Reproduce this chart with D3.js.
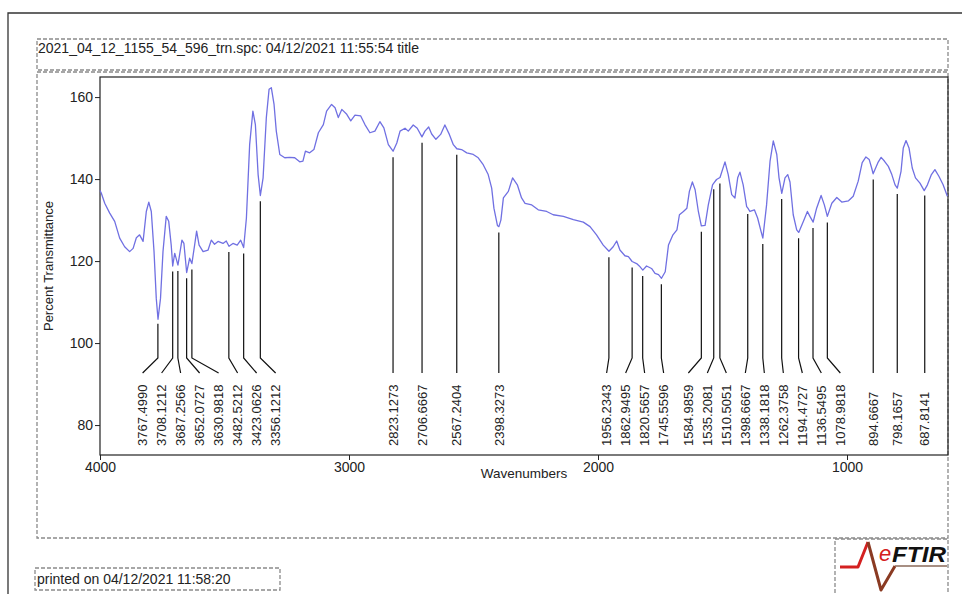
<!DOCTYPE html>
<html>
<head>
<meta charset="utf-8">
<script src="https://cdn.jsdelivr.net/npm/d3@7"></script>
<style>
  html, body { margin: 0; padding: 0; background: #fff; }
  svg { display: block; font-family: "Liberation Sans", Arial, sans-serif; }
</style>
</head>
<body>
<svg id="chart" width="962" height="594"></svg>
<script>
// ---------- DATA ----------
const titleText = "2021_04_12_1155_54_596_trn.spc: 04/12/2021 11:55:54 title";
const printedText = "printed on 04/12/2021 11:58:20";
const xAxisLabel = "Wavenumbers";
const yAxisLabel = "Percent Transmittance";
const xTicks = [4000, 3000, 2000, 1000];
const yTicks = [80, 100, 120, 140, 160];

const wavenumbers = [
  4000,3995,3981,3961,3941,3921,3901,3881,3867,3854,3841,3827,3814,3804,3794,3783,3774,3767,3757,3747,
  3734,3724,3714,3708,3700,3694,3687,3671,3663,3652,3640,3631,3620,3612,3602,3586,3566,3553,3540,3526,
  3506,3493,3482,3466,3449,3435,3423,3412,3399,3386,3376,3365,3356,3345,3332,3321,3312,3301,3292,3278,
  3258,3238,3218,3198,3185,3175,3158,3141,3123,3103,3090,3070,3056,3043,3029,3009,2993,2976,2953,2936,
  2916,2896,2876,2860,2842,2823,2808,2795,2775,2762,2742,2726,2707,2695,2680,2668,2651,2632,2615,2597,
  2581,2567,2548,2527,2501,2481,2461,2441,2427,2418,2404,2398,2390,2380,2360,2343,2324,2307,2293,2266,
  2240,2206,2180,2139,2099,2059,2032,2006,1979,1956,1939,1925,1912,1892,1878,1863,1845,1831,1820,1805,
  1785,1771,1757,1745,1730,1717,1699,1683,1673,1657,1643,1633,1621,1610,1597,1585,1570,1557,1540,1535,
  1524,1510,1490,1477,1463,1450,1439,1430,1417,1403,1398,1390,1372,1359,1345,1338,1323,1309,1296,1282,
  1273,1262,1249,1238,1229,1216,1202,1194,1175,1159,1149,1136,1122,1104,1091,1079,1061,1041,1021,994,
  975,955,939,924,911,901,895,876,863,850,834,820,807,798,783,774,763,751,738,725,
  707,690,677,661,647,631,614,597
];
const transmittance = [
  137.2,136.6,134.1,131.7,129.7,125.6,123.5,122.3,123.1,125.7,126.4,124.8,132.1,134.4,132.1,122.3,110.9,105.8,110.9,122.3,
  130.9,129.7,123.9,118.8,121.9,120.6,119.0,125.1,124.3,117.2,120.7,119.4,123.9,127.3,123.9,122.3,122.7,125.1,124.1,124.8,
  124.3,124.9,123.6,124.3,123.9,125.1,123.3,130.5,148.4,156.6,153.3,141.1,136.0,140.3,155.0,161.9,162.3,158.2,151.7,146.0,
  145.2,145.3,145.2,144.2,144.4,146.8,146.4,147.2,151.3,153.3,156.6,158.2,157.4,155.0,157.0,155.8,154.2,155.6,155.4,153.3,
  151.3,151.7,154.0,152.5,148.4,146.8,148.8,151.7,152.4,151.7,153.2,152.4,150.3,151.7,152.7,151.0,149.7,150.9,153.2,150.9,
  148.4,147.4,147.2,146.4,146.0,145.2,143.5,141.1,137.8,132.9,128.7,128.4,130.0,135.4,137.0,140.3,138.6,135.4,134.1,133.7,
  132.5,132.1,131.3,130.9,130.1,129.5,128.4,126.4,123.9,122.4,123.5,124.9,122.7,121.3,121.1,119.9,119.4,118.6,117.8,118.8,
  118.2,117.0,116.7,115.8,117.4,123.9,126.4,127.6,131.3,132.1,132.9,137.0,139.3,137.4,132.1,128.6,128.7,133.7,138.6,139.0,
  139.9,140.4,144.2,141.1,136.2,135.4,140.3,141.7,138.6,133.3,132.9,132.1,132.5,130.5,127.2,125.6,133.7,144.4,149.3,146.0,
  140.3,136.5,140.3,141.1,139.3,131.3,127.6,127.0,129.7,132.1,130.9,129.5,132.9,136.0,133.7,130.9,134.1,135.5,134.4,134.7,
  135.8,139.5,144.0,145.4,144.8,142.7,141.3,144.0,145.3,144.4,143.1,141.1,138.6,137.8,141.9,147.6,149.4,147.6,142.7,140.3,
  139.0,137.2,138.6,141.1,142.3,140.7,138.6,135.8
];
const peakLabels = [
  "3767.4990","3708.1212","3687.2566","3652.0727","3630.9818","3482.5212","3423.0626","3356.1212",
  "2823.1273","2706.6667","2567.2404","2398.3273",
  "1956.2343","1862.9495","1820.5657","1745.5596",
  "1584.9859","1535.2081","1510.5051","1398.6667","1338.1818","1262.3758","1194.4727","1136.5495","1078.9818",
  "894.6667","798.1657","687.8141"
];

// ---------- LAYOUT ----------
const svg = d3.select("#chart");
const plot = { left: 100, right: 948, top: 77, bottom: 455 };
const x = d3.scaleLinear().domain([4000, 594.4]).range([plot.left, plot.right]);
const y = d3.scaleLinear().domain([72.7, 164.9]).range([plot.bottom, plot.top]);

const dashGray = "#8a8a8a";

// outer frame
svg.append("path").attr("d", "M8,600 L8,13 L970,13")
  .attr("fill", "none").attr("stroke", "#333").attr("stroke-width", 1.3);

// dashed boxes
function dashedBox(x0, y0, x1, y1) {
  svg.append("rect").attr("x", x0).attr("y", y0).attr("width", x1 - x0).attr("height", y1 - y0)
    .attr("fill", "none").attr("stroke", dashGray).attr("stroke-width", 1.3)
    .attr("stroke-dasharray", "4,2");
}
dashedBox(37, 39, 948, 70);
dashedBox(37, 72, 948, 538);
dashedBox(35, 568, 280, 590);
dashedBox(835, 539, 948, 600);

svg.append("text").attr("x", 38).attr("y", 53).attr("font-size", 14).attr("fill", "#222").text(titleText);
svg.append("text").attr("x", 37).attr("y", 584).attr("font-size", 14).attr("fill", "#222").text(printedText);

// plot frame
svg.append("rect").attr("x", plot.left).attr("y", plot.top)
  .attr("width", plot.right - plot.left).attr("height", plot.bottom - plot.top)
  .attr("fill", "none").attr("stroke", "#222").attr("stroke-width", 1.2);

// axes
const xAxis = d3.axisBottom(x).tickValues(xTicks).tickSize(5).tickPadding(2).tickFormat(d3.format("d"));
const gx = svg.append("g").attr("transform", `translate(0,${plot.bottom})`).call(xAxis);
const yAxis = d3.axisLeft(y).tickValues(yTicks).tickSize(5).tickPadding(2).tickFormat(d3.format("d"));
const gy = svg.append("g").attr("transform", `translate(${plot.left},0)`).call(yAxis);
[gx, gy].forEach(g => {
  g.select(".domain").remove();
  g.selectAll("line").attr("stroke", "#222");
  g.selectAll("text").attr("font-size", 14).attr("fill", "#222")
    .attr("font-family", "Liberation Sans, Arial, sans-serif");
});

svg.append("text").attr("x", (plot.left + plot.right) / 2).attr("y", 478)
  .attr("text-anchor", "middle").attr("font-size", 13.5).attr("fill", "#222").text(xAxisLabel);
svg.append("text").attr("transform", `translate(53,${(plot.top + plot.bottom) / 2}) rotate(-90)`)
  .attr("text-anchor", "middle").attr("font-size", 13).attr("fill", "#222").text(yAxisLabel);

// spectrum
const data = wavenumbers.map((w, i) => ({ w, t: transmittance[i] }));
const line = d3.line().x(d => x(d.w)).y(d => y(d.t));
svg.append("path").datum(data).attr("d", line)
  .attr("fill", "none").attr("stroke", "#7070e2").attr("stroke-width", 1.3)
  .attr("stroke-linejoin", "round");

// value at a wavenumber (interpolated)
const asc = data.slice().sort((a, b) => a.w - b.w);
const bis = d3.bisector(d => d.w).left;
function valueAt(w) {
  const i = Math.max(1, Math.min(asc.length - 1, bis(asc, w)));
  const a = asc[i - 1], b = asc[i];
  const f = (w - a.w) / (b.w - a.w);
  return a.t + f * (b.t - a.t);
}

// peak label placement (cluster spreading, centred on the cluster's span)
const gap = 19;
const peaks = peakLabels.map(s => ({ s, w: +s, px: x(+s) })).sort((a, b) => a.px - b.px);
let clusters = peaks.map(p => ({ members: [p] }));
function layoutCluster(c) {
  const m = (c.members[0].px + c.members[c.members.length - 1].px) / 2;
  const n = c.members.length;
  c.members.forEach((p, i) => p.lx = m + (i - (n - 1) / 2) * gap);
}
clusters.forEach(layoutCluster);
let changed = true;
while (changed) {
  changed = false;
  for (let i = 0; i < clusters.length - 1; i++) {
    const a = clusters[i], b = clusters[i + 1];
    const aEnd = a.members[a.members.length - 1].lx, bStart = b.members[0].lx;
    if (bStart - aEnd < gap - 0.01) {
      const merged = { members: a.members.concat(b.members) };
      layoutCluster(merged);
      clusters.splice(i, 2, merged);
      changed = true;
      break;
    }
  }
}

const elbowY = 358, endY = 373, textY = 446;
const gl = svg.append("g");
peaks.forEach(p => {
  const top = y(valueAt(p.w)) + 6;
  gl.append("path")
    .attr("d", `M${p.px},${top} L${p.px},${elbowY} L${p.lx},${endY}`)
    .attr("fill", "none").attr("stroke", "#111").attr("stroke-width", 1.2);
  gl.append("text")
    .attr("transform", `translate(${p.lx + 4.7},${textY}) rotate(-90)`)
    .attr("font-size", 13).attr("fill", "#222").text(p.s);
});

// eFTIR logo
const logo = svg.append("g");
logo.append("path").attr("d", "M840,567 L858,567 L868,542")
  .attr("fill", "none").attr("stroke", "#d42020").attr("stroke-width", 3).attr("stroke-linejoin", "round");
logo.append("path").attr("d", "M868,542 L881,590 L895,566")
  .attr("fill", "none").attr("stroke", "#8a3a22").attr("stroke-width", 3).attr("stroke-linejoin", "round");
logo.append("path").attr("d", "M895,566 L947,566")
  .attr("fill", "none").attr("stroke", "#8a6a5a").attr("stroke-width", 1.5);
logo.append("text").attr("x", 879).attr("y", 561).attr("font-size", 22).attr("font-style", "italic")
  .attr("fill", "#d42020").text("e");
logo.append("text").attr("x", 892).attr("y", 562).attr("font-size", 22).attr("font-style", "italic")
  .attr("font-weight", "bold").attr("fill", "#111").attr("textLength", 54).attr("lengthAdjust", "spacingAndGlyphs").text("FTIR");
</script>
</body>
</html>
